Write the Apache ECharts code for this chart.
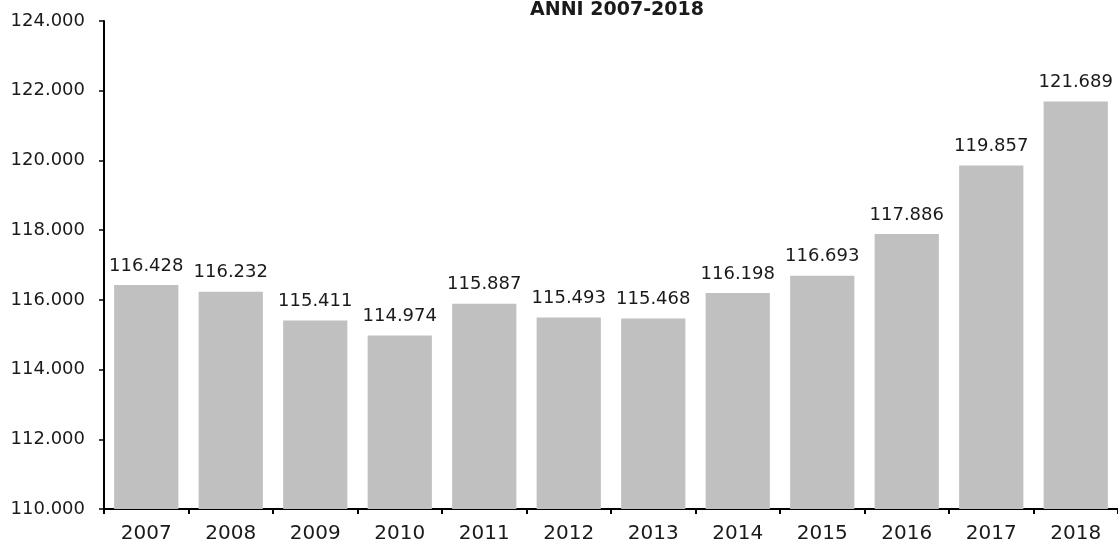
<!DOCTYPE html>
<html>
<head>
<meta charset="utf-8">
<script src="https://cdn.jsdelivr.net/npm/echarts@6/dist/echarts.min.js"></script>
<style>
html,body{margin:0;padding:0;background:#fff;}
#main{width:1118px;height:544px;}
</style>
</head>
<body>
<div id="main"></div>
<script>
var titleText = 'ANNI 2007-2018';
var categories = ['2007','2008','2009','2010','2011','2012','2013','2014','2015','2016','2017','2018'];
var values = [116428,116232,115411,114974,115887,115493,115468,116198,116693,117886,119857,121689];
var yMin = 110000, yMax = 124000, yStep = 2000;

function fmt(v){
  return String(Math.round(v)).replace(/\B(?=(\d{3})+(?!\d))/g, '.');
}
var FONT = 'DejaVu Sans';
var chart = echarts.init(document.getElementById('main'), null, {renderer:'canvas'});
chart.setOption({
  animation:false,
  backgroundColor:'#ffffff',
  title:{
    text:titleText,
    left:612, textAlign:'center', top:-4,
    textStyle:{fontFamily:FONT,fontWeight:'bold',fontSize:19,color:'#1a1a1a'}
  },
  grid:{left:104,right:0,top:21,bottom:35,containLabel:false},
  xAxis:{
    type:'category',
    data:categories,
    axisLine:{lineStyle:{color:'#000',width:2}},
    axisTick:{show:true,length:5,lineStyle:{color:'#000',width:2},alignWithLabel:false},
    axisLabel:{fontFamily:FONT,fontSize:20,color:'#1a1a1a',margin:15},
    splitLine:{show:false}
  },
  yAxis:{
    type:'value',
    min:yMin,max:yMax,interval:yStep,
    axisLine:{show:true,lineStyle:{color:'#000',width:2}},
    axisTick:{show:true,length:5,lineStyle:{color:'#000',width:1.5}},
    axisLabel:{fontFamily:FONT,fontSize:18,color:'#1a1a1a',margin:19,formatter:function(v){return fmt(v);}},
    splitLine:{show:false}
  },
  series:[{
    type:'bar',
    data:values,
    barCategoryGap:'24%',
    itemStyle:{color:'#c0c0c0'},
    label:{show:true,position:'top',distance:10,fontFamily:FONT,fontSize:18,color:'#1a1a1a',
      formatter:function(p){return fmt(p.value);}}
  }]
});
</script>
</body>
</html>
